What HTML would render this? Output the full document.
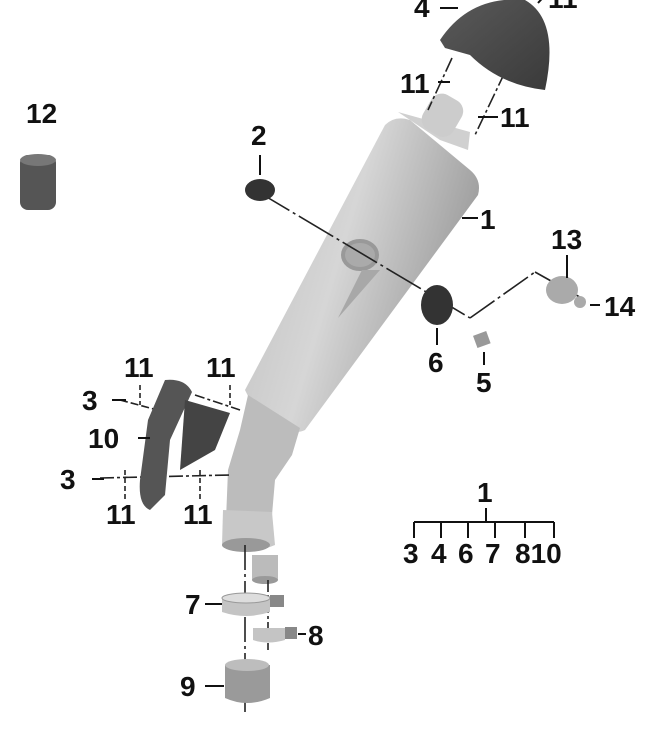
<!DOCTYPE html>
<html><head><meta charset="utf-8"><style>
html,body{margin:0;padding:0;background:#fff;width:656px;height:730px;overflow:hidden}
text{font-family:"Liberation Sans",sans-serif;font-weight:bold;font-size:28px;fill:#111}
</style></head><body>
<svg width="656" height="730" viewBox="0 0 656 730">
<defs>
<linearGradient id="g" x1="0" y1="0" x2="1" y2="0.4">
<stop offset="0" stop-color="#bdbdbd"/><stop offset="0.5" stop-color="#d6d6d6"/><stop offset="1" stop-color="#9a9a9a"/></linearGradient>
<linearGradient id="d" x1="0" y1="0" x2="1" y2="1">
<stop offset="0" stop-color="#5a5a5a"/><stop offset="1" stop-color="#3a3a3a"/></linearGradient>
</defs>
<!-- muffler -->
<path d="M398,112 L470,132 L468,150 L440,140 Z" fill="#d0d0d0"/>
<rect x="425" y="95" width="35" height="40" rx="12" fill="#ccc" transform="rotate(30 442 115)"/>
<path d="M385,125 Q395,115 410,120 L470,170 Q482,180 478,195 L305,430 Q285,440 250,400 L245,390 Z" fill="url(#g)"/>
<path d="M248,395 L300,428 L292,455 L275,480 L272,515 L226,520 L228,470 L240,430 Z" fill="#bcbcbc"/>
<path d="M223,510 L272,512 L275,545 Q250,556 222,545 Z" fill="#c8c8c8"/>
<ellipse cx="246" cy="545" rx="24" ry="7" fill="#999"/>
<rect x="252" y="555" width="26" height="25" fill="#bbb"/>
<ellipse cx="265" cy="580" rx="13" ry="4" fill="#999"/>
<ellipse cx="360" cy="255" rx="17" ry="14" fill="#aaa" stroke="#999" stroke-width="4"/>
<path d="M362,270 L380,270 L338,318 Z" fill="#a8a8a8"/>
<g stroke="#222" stroke-width="1.6" fill="none">
<line x1="255" y1="190" x2="470" y2="318" stroke-dasharray="40 4 3 4"/>
<line x1="470" y1="318" x2="535" y2="272" stroke-dasharray="30 4 3 4"/>
<line x1="535" y1="272" x2="585" y2="300"/>
<line x1="452" y1="58" x2="428" y2="110" stroke-dasharray="15 3 3 3"/>
<line x1="505" y1="72" x2="475" y2="135" stroke-dasharray="15 3 3 3"/>
<line x1="120" y1="400" x2="165" y2="412" stroke-dasharray="8 3"/>
<line x1="195" y1="395" x2="240" y2="410" stroke-dasharray="10 3 3 3"/>
<line x1="100" y1="478" x2="230" y2="475" stroke-dasharray="14 3 3 3"/>
<line x1="245" y1="545" x2="245" y2="712" stroke-dasharray="25 4 3 4"/>
<line x1="268" y1="580" x2="268" y2="650" stroke-dasharray="12 3 3 3"/>
<line x1="140" y1="385" x2="140" y2="405" stroke-dasharray="5 3"/>
<line x1="230" y1="385" x2="230" y2="405" stroke-dasharray="5 3"/>
<line x1="125" y1="470" x2="125" y2="500" stroke-dasharray="5 3"/>
<line x1="200" y1="470" x2="200" y2="500" stroke-dasharray="5 3"/>
</g>
<!-- end cap 4 -->
<path d="M440,40 Q470,-5 525,0 Q560,20 545,90 Q500,85 470,55 L445,48 Z" fill="url(#d)"/>
<!-- 12 -->
<rect x="20" y="155" width="36" height="55" rx="8" fill="#555"/>
<ellipse cx="38" cy="160" rx="18" ry="6" fill="#777"/>
<!-- 2 -->
<ellipse cx="260" cy="190" rx="15" ry="11" fill="#333"/>
<!-- 6 -->
<ellipse cx="437" cy="305" rx="16" ry="20" fill="#333"/>
<!-- 5 -->
<rect x="475" y="333" width="14" height="13" fill="#999" transform="rotate(-20 482 340)"/>
<!-- 13,14 -->
<ellipse cx="562" cy="290" rx="16" ry="14" fill="#aaa"/>
<circle cx="580" cy="302" r="6" fill="#aaa"/>
<!-- 10 -->
<path d="M165,380 Q185,378 192,392 L170,440 L165,495 L150,510 Q138,505 140,480 L148,420 Z" fill="#555"/>
<path d="M185,400 L230,413 L215,450 L180,470 Z" fill="#444"/>
<!-- clamps -->
<path d="M222,598 L270,598 L270,612 Q246,620 222,612 Z" fill="#c4c4c4"/>
<ellipse cx="246" cy="598" rx="24" ry="5" fill="#ddd" stroke="#999"/>
<rect x="270" y="595" width="14" height="12" fill="#888"/>
<path d="M253,628 L285,628 L285,640 Q268,645 253,640 Z" fill="#c4c4c4"/>
<rect x="285" y="627" width="12" height="12" fill="#888"/>
<path d="M225,665 L270,665 L270,698 Q247,708 225,698 Z" fill="#9a9a9a"/>
<ellipse cx="247" cy="665" rx="22" ry="6" fill="#bdbdbd"/>
<!-- leader lines -->
<g stroke="#111" stroke-width="2">
<line x1="440" y1="8" x2="458" y2="8"/><line x1="538" y1="3" x2="548" y2="-8"/>
<line x1="438" y1="82" x2="450" y2="82"/><line x1="478" y1="117" x2="498" y2="117"/>
<line x1="260" y1="155" x2="260" y2="175"/><line x1="462" y1="218" x2="478" y2="218"/>
<line x1="567" y1="255" x2="567" y2="278"/><line x1="590" y1="305" x2="600" y2="305"/>
<line x1="437" y1="328" x2="437" y2="345"/><line x1="484" y1="352" x2="484" y2="365"/>
<line x1="112" y1="400" x2="126" y2="400"/><line x1="138" y1="438" x2="150" y2="438"/>
<line x1="92" y1="479" x2="104" y2="479"/><line x1="205" y1="604" x2="222" y2="604"/>
<line x1="298" y1="634" x2="306" y2="634"/><line x1="205" y1="686" x2="224" y2="686"/>
<line x1="486" y1="508" x2="486" y2="522"/><line x1="414" y1="522" x2="554" y2="522"/>
<line x1="414" y1="522" x2="414" y2="538"/><line x1="441" y1="522" x2="441" y2="538"/>
<line x1="468" y1="522" x2="468" y2="538"/><line x1="495" y1="522" x2="495" y2="538"/>
<line x1="525" y1="522" x2="525" y2="538"/><line x1="554" y1="522" x2="554" y2="538"/>
</g>
<text x="414" y="17">4</text><text x="548" y="8">11</text>
<text x="400" y="93">11</text><text x="500" y="127">11</text>
<text x="251" y="145">2</text><text x="26" y="123">12</text>
<text x="480" y="229">1</text><text x="551" y="249">13</text>
<text x="604" y="316">14</text><text x="428" y="372">6</text>
<text x="476" y="392">5</text><text x="124" y="377">11</text>
<text x="206" y="377">11</text><text x="82" y="410">3</text>
<text x="88" y="448">10</text><text x="60" y="489">3</text>
<text x="106" y="524">11</text><text x="183" y="524">11</text>
<text x="477" y="502">1</text>
<text x="403" y="563">3</text><text x="431" y="563">4</text><text x="458" y="563">6</text><text x="485" y="563">7</text><text x="515" y="563">810</text>
<text x="185" y="614">7</text><text x="308" y="645">8</text><text x="180" y="696">9</text>
</svg>
</body></html>
